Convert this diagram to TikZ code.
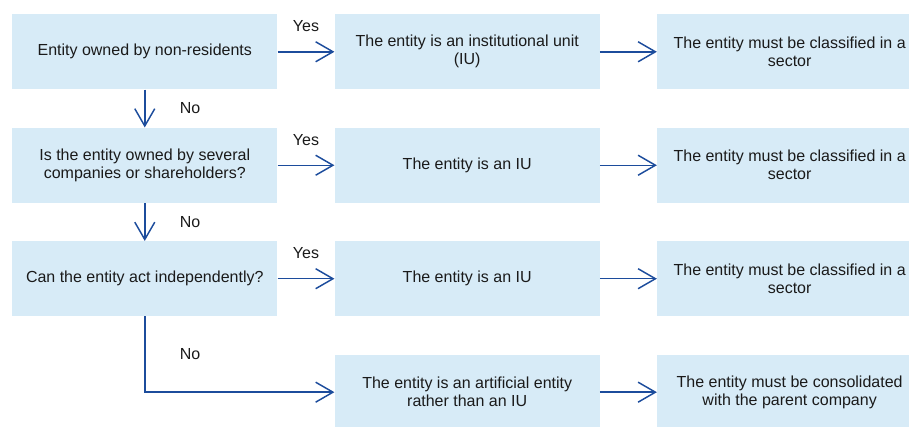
\documentclass[tikz,border=0pt]{standalone}
\usepackage{fontspec}
\setmainfont{Liberation Sans}
\usetikzlibrary{arrows.meta}
\usetikzlibrary{positioning}
\definecolor{boxfill}{HTML}{D7EBF7}
\definecolor{flowblue}{HTML}{1C4C9C}
\definecolor{txtgray}{HTML}{1A1A1A}
\tikzset{box/.style = {fill = boxfill, text = txtgray, minimum width = 198.75pt,
                       minimum height = 56.25pt, text width = 185pt, align = flush center,
                       font = \fontsize{12}{13.5}\selectfont}}
\tikzset{flow/.style = {draw = flowblue, line width = 1.1pt,
                        -{Straight Barb[length = 13pt, width = 15pt, line width = 1.1pt]}}}
\tikzset{lbl/.style = {text = txtgray, font = \fontsize{12}{13.5}\selectfont}}

\begin{document}
\begin{tikzpicture}[node distance = 1cm and 1.5cm]
    \useasboundingbox (-9pt, 10.5pt) rectangle (672.75pt, -309pt);

    \node [box, anchor = north west] (own) at (0, 0) {Entity owned by non-residents};
    \node [box, right = of own] (iu1) {The entity is an institutional unit (IU)};
    \node [box, right = of iu1] (sec1) {The entity must be classified in a sector};

    \node [box, below = of own] (several) {Is the entity owned by several companies or shareholders?};
    \node [box, right = of several] (iu2) {The entity is an IU};
    \node [box, right = of iu2] (sec2) {The entity must be classified in a sector};

    \node [box, below = of several] (indep) {Can the entity act independently?};
    \node [box, right = of indep] (iu3) {The entity is an IU};
    \node [box, right = of iu3] (sec3) {The entity must be classified in a sector};

    \node [box, below = of iu3] (artif) {The entity is an artificial entity rather than an IU};
    \node [box, right = of artif] (cons) {The entity must be consolidated with the parent company};

    \draw [flow] (own) -- node (yes1) [lbl, midway, yshift = 19pt] {Yes} (iu1);
    \draw [flow] (iu1) -- (sec1);
    \draw [flow] (several) -- node (yes2) [lbl, midway, yshift = 19pt] {Yes} (iu2);
    \draw [flow] (iu2) -- (sec2);
    \draw [flow] (indep) -- node (yes3) [lbl, midway, yshift = 19pt] {Yes} (iu3);
    \draw [flow] (iu3) -- (sec3);
    \draw [flow] (artif) -- (cons);

    \draw [flow] (own) -- node (no1) [lbl, midway, xshift = 34pt] {No} (several);
    \draw [flow] (several) -- node (no2) [lbl, midway, xshift = 34pt] {No} (indep);
    \draw [flow] (indep) |- node (no3) [lbl, pos = 0.25, xshift = 34pt] {No} (artif);
  \end{tikzpicture}
\end{document}
